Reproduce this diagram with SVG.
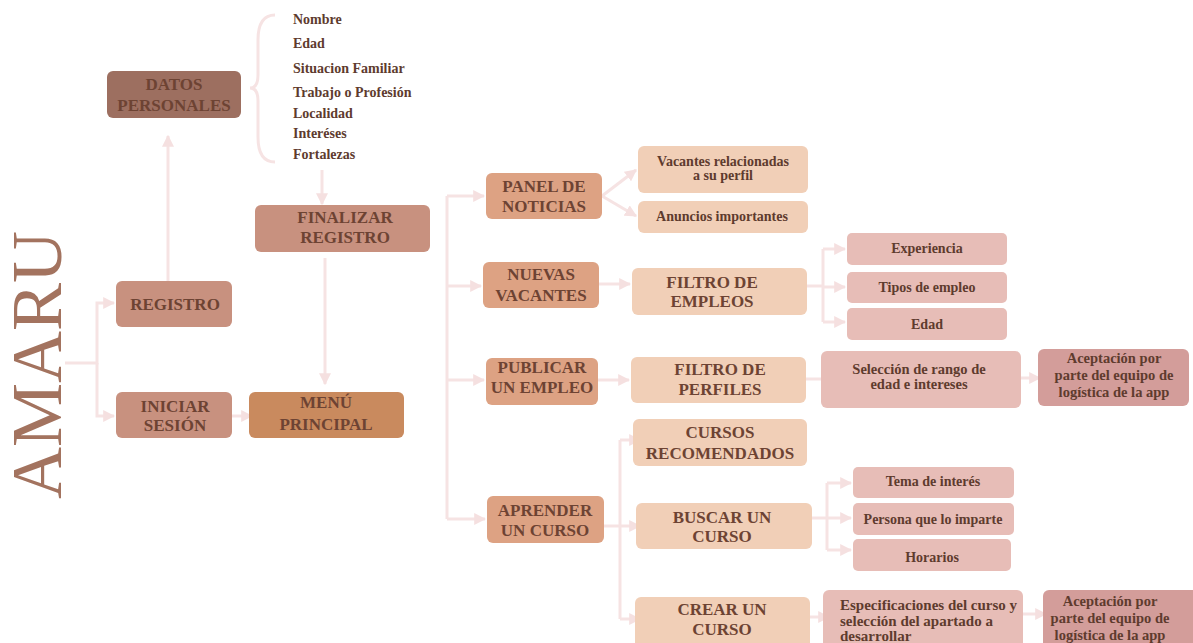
<svg xmlns="http://www.w3.org/2000/svg" width="1193" height="643" viewBox="0 0 1193 643">
<defs>
<marker id="ah" viewBox="0 0 10 10" refX="9" refY="5" markerWidth="4" markerHeight="4" orient="auto" markerUnits="strokeWidth">
<path d="M0,0 L10,5 L0,10 Z" fill="#f5e0e0"/>
</marker>
<style>
.c{fill:none;stroke:#f6e3e3;stroke-width:3}
.a{marker-end:url(#ah)}
.up{font-family:"Liberation Serif",serif;font-size:17px;font-weight:bold;fill:#6d4333;text-anchor:middle}
.sm{font-family:"Liberation Serif",serif;font-size:14px;font-weight:bold;fill:#5e3b2e;text-anchor:middle}
.md{font-family:"Liberation Serif",serif;font-size:14.5px;font-weight:bold;fill:#5e3b2e;text-anchor:middle}
.lf{font-family:"Liberation Serif",serif;font-size:15px;font-weight:bold;fill:#5e3b2e;text-anchor:start}
.li{font-family:"Liberation Serif",serif;font-size:14px;font-weight:bold;fill:#5e3b2e}
.k1{fill:#9d6f60}
.k2{fill:#c8917f}
.k3{fill:#c98a5e}
.k4{fill:#dda283}
.k5{fill:#f1cfb7}
.k6{fill:#e7bdb7}
.k7{fill:#d39d9a}
</style>
</defs>
<rect width="1193" height="643" fill="#ffffff"/>

<g id="title">
<text transform="translate(61,365) rotate(-90)" font-family="Liberation Serif, serif" font-size="72" fill="#a3735f" text-anchor="middle">AMARU</text>
</g>

<g id="connectors">
<path class="c" d="M65,363 H97 V303 H114" marker-end="url(#ah)"/>
<path class="c a" d="M97,363 V416 H114"/>
<path class="c a" d="M168,281 V136"/>
<path class="c" d="M275,15 Q258,15 258,40 L258,75 Q258,88 250,88 Q258,88 258,101 L258,137 Q258,162 275,162"/>
<path class="c a" d="M322,170 V204"/>
<path class="c a" d="M325,258 V384"/>
<path class="c a" d="M232,416 H252"/>
<path class="c" d="M447,196 V519"/>
<path class="c a" d="M447,196 H484"/>
<path class="c a" d="M447,286 H481"/>
<path class="c a" d="M447,380 H484"/>
<path class="c a" d="M447,519 H485"/>
<path class="c a" d="M602,196 L636,170"/>
<path class="c a" d="M602,196 L636,216"/>
<path class="c a" d="M599,284 H630"/>
<path class="c" d="M806,286 H823"/>
<path class="c" d="M823,249 V322"/>
<path class="c a" d="M823,249 H845"/>
<path class="c a" d="M823,287 H845"/>
<path class="c a" d="M823,322 H845"/>
<path class="c a" d="M598,380 H629"/>
<path class="c a" d="M795,379 H832"/>
<path class="c a" d="M1000,378 H1040"/>
<path class="c" d="M604,526 H620"/>
<path class="c" d="M620,440 V619"/>
<path class="c a" d="M620,440 H640"/>
<path class="c a" d="M620,526 H640"/>
<path class="c a" d="M620,619 H640"/>
<path class="c" d="M811,518 H827"/>
<path class="c" d="M827,483 V550"/>
<path class="c a" d="M827,483 H851"/>
<path class="c a" d="M827,518 H851"/>
<path class="c a" d="M827,550 H851"/>
<path class="c a" d="M810,617 H829"/>
<path class="c a" d="M1013,614 H1046"/>
</g>

<g id="datos-personales"><rect class="k1" x="107" y="71" width="134" height="47" rx="6"/><text class="up" x="174" y="90">DATOS</text><text class="up" x="174" y="111">PERSONALES</text></g>

<g id="datos-lista">
<text class="li" x="293" y="24">Nombre</text>
<text class="li" x="293" y="48">Edad</text>
<text class="li" x="293" y="73">Situacion Familiar</text>
<text class="li" x="293" y="97">Trabajo o Profesión</text>
<text class="li" x="293" y="118">Localidad</text>
<text class="li" x="293" y="138">Interéses</text>
<text class="li" x="293" y="159">Fortalezas</text>
</g>

<g id="finalizar-registro"><rect class="k2" x="255" y="205" width="175" height="47" rx="6"/><text class="up" x="345" y="223">FINALIZAR</text><text class="up" x="345" y="243">REGISTRO</text></g>
<g id="registro"><rect class="k2" x="116" y="281" width="116" height="46" rx="6"/><text class="up" x="175" y="310">REGISTRO</text></g>
<g id="iniciar-sesion"><rect class="k2" x="116" y="392" width="116" height="46" rx="6"/><text class="up" x="175" y="412">INICIAR</text><text class="up" x="175" y="431">SESIÓN</text></g>
<g id="menu-principal"><rect class="k3" x="249" y="392" width="155" height="46" rx="6"/><text class="up" x="326" y="408">MENÚ</text><text class="up" x="326" y="430">PRINCIPAL</text></g>

<g id="panel-noticias"><rect class="k4" x="486" y="173" width="116" height="46" rx="6"/><text class="up" x="544" y="192">PANEL DE</text><text class="up" x="544" y="212">NOTICIAS</text></g>
<g id="vacantes-relacionadas"><rect class="k5" x="638" y="146" width="170" height="47" rx="6"/><text class="sm" x="723" y="166">Vacantes relacionadas</text><text class="sm" x="723" y="180">a su perfil</text></g>
<g id="anuncios"><rect class="k5" x="638" y="201" width="170" height="32" rx="6"/><text class="sm" x="722" y="221">Anuncios importantes</text></g>

<g id="nuevas-vacantes"><rect class="k4" x="483" y="262" width="116" height="46" rx="6"/><text class="up" x="541" y="280">NUEVAS</text><text class="up" x="541" y="301">VACANTES</text></g>
<g id="filtro-empleos"><rect class="k5" x="632" y="268" width="175" height="47" rx="6"/><text class="up" x="712" y="288">FILTRO DE</text><text class="up" x="712" y="307">EMPLEOS</text></g>
<g id="experiencia"><rect class="k6" x="847" y="233" width="160" height="32" rx="5"/><text class="sm" x="927" y="253">Experiencia</text></g>
<g id="tipos-empleo"><rect class="k6" x="847" y="272" width="160" height="31" rx="5"/><text class="sm" x="927" y="292">Tipos de empleo</text></g>
<g id="edad"><rect class="k6" x="847" y="308" width="160" height="32" rx="5"/><text class="sm" x="927" y="329">Edad</text></g>

<g id="publicar-empleo"><rect class="k4" x="486" y="358" width="112" height="47" rx="6"/><text class="up" x="542" y="373">PUBLICAR</text><text class="up" x="542" y="393">UN EMPLEO</text></g>
<g id="filtro-perfiles"><rect class="k5" x="631" y="357" width="175" height="46" rx="6"/><text class="up" x="720" y="375">FILTRO DE</text><text class="up" x="720" y="395">PERFILES</text></g>
<g id="seleccion-rango"><rect class="k6" x="821" y="351" width="200" height="57" rx="6"/><text class="md" x="919" y="374">Selección de rango de</text><text class="md" x="919" y="389">edad e intereses</text></g>
<g id="aceptacion-1"><rect class="k7" x="1038" y="349" width="151" height="57" rx="6"/><text class="md" x="1114" y="363">Aceptación por</text><text class="md" x="1114" y="380">parte del equipo de</text><text class="md" x="1114" y="397">logística de la app</text></g>

<g id="cursos-recomendados"><rect class="k5" x="633" y="419" width="174" height="47" rx="6"/><text class="up" x="720" y="438">CURSOS</text><text class="up" x="720" y="459">RECOMENDADOS</text></g>
<g id="aprender-curso"><rect class="k4" x="487" y="496" width="117" height="47" rx="6"/><text class="up" x="545" y="516">APRENDER</text><text class="up" x="545" y="536">UN CURSO</text></g>
<g id="buscar-curso"><rect class="k5" x="636" y="503" width="176" height="46" rx="6"/><text class="up" x="722" y="523">BUSCAR UN</text><text class="up" x="722" y="542">CURSO</text></g>
<g id="tema-interes"><rect class="k6" x="853" y="467" width="161" height="31" rx="5"/><text class="sm" x="933" y="486">Tema de interés</text></g>
<g id="persona-imparte"><rect class="k6" x="853" y="503" width="161" height="32" rx="5"/><text class="sm" x="933" y="524">Persona que lo imparte</text></g>
<g id="horarios"><rect class="k6" x="853" y="539" width="158" height="32" rx="5"/><text class="sm" x="932" y="562">Horarios</text></g>

<g id="crear-curso"><rect class="k5" x="635" y="597" width="175" height="52" rx="6"/><text class="up" x="722" y="615">CREAR UN</text><text class="up" x="722" y="635">CURSO</text></g>
<g id="especificaciones"><rect class="k6" x="823" y="590" width="200" height="60" rx="6"/><text class="lf" x="840" y="610">Especificaciones del curso y</text><text class="lf" x="840" y="626">selección del apartado a</text><text class="lf" x="840" y="641">desarrollar</text></g>
<g id="aceptacion-2"><rect class="k7" x="1043" y="590" width="156" height="60" rx="6"/><text class="md" x="1110" y="606">Aceptación por</text><text class="md" x="1110" y="623">parte del equipo de</text><text class="md" x="1110" y="640">logística de la app</text></g>
</svg>
